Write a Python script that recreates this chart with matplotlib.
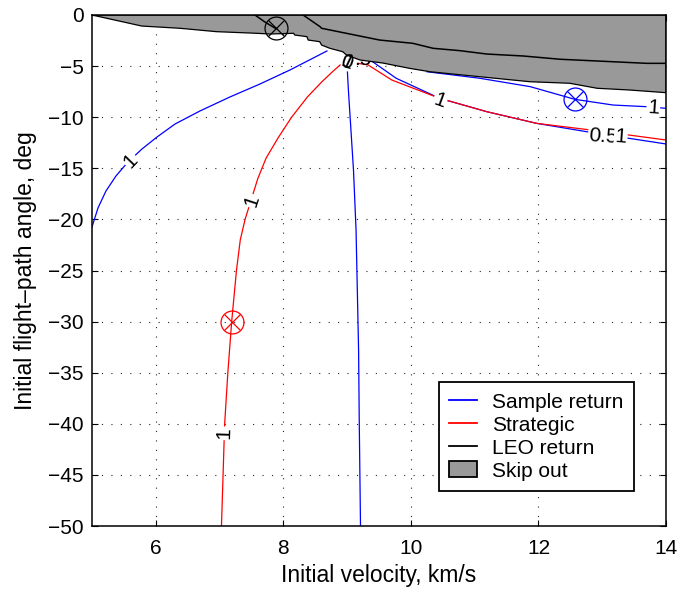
import numpy as np
import matplotlib
matplotlib.use("Agg")
import matplotlib.pyplot as plt
from matplotlib.lines import Line2D
from matplotlib.patches import Patch, Polygon

plt.rcParams['font.family'] = ['Liberation Sans', 'DejaVu Sans']
plt.rcParams['font.size'] = 15

# Skip-out region: lower boundary of the shaded zone (velocity km/s, angle deg)
skip_v = [5.00, 5.78, 6.38, 6.95, 7.58, 7.79, 8.16, 8.18, 8.37, 8.39, 8.57, 8.60,
          8.73, 8.93, 8.99, 9.20, 9.56, 9.98, 10.30, 11.08, 11.87, 12.49, 12.92,
          13.43, 14.00]
skip_g = [0.00, -1.08, -1.30, -1.63, -1.79, -1.86, -1.79, -1.96, -2.12, -2.45, -2.61,
          -2.94, -3.26, -3.59, -3.91, -4.40, -4.70, -5.22, -5.55, -6.04, -6.53, -6.68,
          -7.17, -7.34, -7.60]

# LEO return contour (two pieces)
leo1_v = [7.555, 7.71, 7.88]
leo1_g = [0.00, -0.68, -1.32]
leo2_v = [8.31, 8.575, 8.60, 9.51, 10.03, 10.35, 10.77, 11.19, 11.76, 12.34, 12.92,
          13.70, 14.00]
leo2_g = [0.00, -1.14, -1.30, -2.45, -2.77, -3.26, -3.49, -3.82, -4.01, -4.33, -4.50,
          -4.73, -4.73]

# Sample return contours
samp_left_v = [5.00, 5.094, 5.219, 5.376, 5.564, 5.784, 6.019, 6.301, 6.693, 7.163,
               7.634, 8.104, 8.684]
samp_left_g = [-20.74, -18.88, -17.22, -15.75, -14.38, -13.11, -11.94, -10.67, -9.39,
               -8.02, -6.75, -5.38, -3.52]
samp_vert_v = [9.005, 9.02, 9.06, 9.10, 9.14, 9.16, 9.18, 9.19, 9.21]
samp_vert_g = [-5.58, -7.34, -11.25, -15.17, -21.0, -26.9, -32.8, -39.6, -50.0]
samp_low_v = [9.40, 9.77, 10.45, 11.19, 11.97, 12.91, 14.00]
samp_low_g = [-4.57, -6.19, -8.15, -9.46, -10.60, -11.58, -12.62]
samp_up_v = [10.25, 11.08, 11.87, 12.57, 13.17, 13.69, 14.00]
samp_up_g = [-5.55, -6.19, -7.01, -8.25, -8.81, -8.97, -9.13]

# Strategic contours
strat_left_v = [7.03, 7.055, 7.08, 7.13, 7.19, 7.265, 7.325, 7.40, 7.50, 7.60, 7.73,
                7.92, 8.13, 8.38, 8.61, 8.78, 8.89]
strat_left_g = [-50.0, -45.0, -40.0, -35.0, -30.0, -25.0, -22.0, -20.0, -18.0, -16.0,
                -14.0, -12.0, -10.0, -8.0, -6.5, -5.5, -4.89]
strat_right_v = [9.17, 9.33, 9.70, 10.45, 11.19, 11.97, 12.91, 14.00]
strat_right_g = [-4.73, -4.89, -6.36, -8.15, -9.46, -10.60, -11.32, -12.23]

# Design points
design_v = [12.57, 7.19, 7.88]
design_g = [-8.25, -30.0, -1.32]
design_c = ['#0000ff', '#ff0000', 'black']

# Contour labels: text, velocity, angle, rotation
lab_text = ['1', '1', '1', '1', '1', '0.5', '1']
lab_v = [5.61, 7.51, 7.07, 10.455, 13.80, 13.02, 13.29]
lab_g = [-14.26, -18.2, -40.93, -8.41, -9.13, -11.94, -11.94]
lab_rot = [46, 72, 88, -20, -4, -4, -4]

BLUE = '#0000ff'
RED = '#ff0000'
GRAY = '#999999'

fig = plt.figure(figsize=(6.8, 5.93), dpi=100)
ax = fig.add_axes([92 / 680, (593 - 526) / 593, 574 / 680, 511 / 593])

# shaded skip-out region
poly_pts = list(zip(skip_v, skip_g)) + [(14.0, 0.0), (5.0, 0.0)]
ax.add_patch(Polygon(poly_pts, closed=True, facecolor=GRAY, edgecolor='black',
                     linewidth=0.9, zorder=3))

# partially hidden label at the cusp (drawn beneath the shaded region)
ax.text(9.24, -4.35, '.5', fontsize=15, ha='center', va='center', zorder=2.5)

lw = 0.9
ax.plot(samp_left_v, samp_left_g, color=BLUE, lw=lw, zorder=2)
ax.plot(samp_vert_v, samp_vert_g, color=BLUE, lw=lw, zorder=2)
ax.plot(samp_low_v, samp_low_g, color=BLUE, lw=lw, zorder=2)
ax.plot(samp_up_v, samp_up_g, color=BLUE, lw=lw, zorder=2)
ax.plot(strat_left_v, strat_left_g, color=RED, lw=lw, zorder=2.1)
ax.plot(strat_right_v, strat_right_g, color=RED, lw=lw, zorder=2.1)
ax.plot(leo1_v, leo1_g, color='black', lw=1.1, zorder=4)
ax.plot(leo2_v, leo2_g, color='black', lw=1.1, zorder=4)

for v, g, c in zip(design_v, design_g, design_c):
    ax.plot(v, g, marker='o', ms=16.5, mfc='none', mec=c, mew=0.9, zorder=5)
    ax.plot(v, g, marker='x', ms=11.8, mec=c, mew=0.9, zorder=5)

for t, v, g, r in zip(lab_text, lab_v, lab_g, lab_rot):
    ax.text(v, g, t, fontsize=15, ha='center', va='center', rotation=r,
            rotation_mode='anchor', zorder=6,
            bbox=dict(boxstyle='square,pad=0.05', fc='white', ec='none'))

# cusp labels
ax.text(8.99, -4.63, '0', fontsize=15, ha='center', va='center', rotation=-18,
        rotation_mode='anchor', zorder=6)
ax.text(8.99, -4.63, '1', fontsize=15, ha='center', va='center', rotation=-25,
        rotation_mode='anchor', zorder=6)

ax.set_xlim(5, 14)
ax.set_ylim(-50, 0)
ax.set_xticks([6, 8, 10, 12, 14])
ax.set_yticks(np.arange(-50, 1, 5))
ax.tick_params(direction='in', length=4, width=0.8, top=True, right=True,
               labelsize=15)
ax.tick_params(axis='x', pad=9)
ax.tick_params(axis='y', pad=6)
ax.grid(True, color='0.15', linestyle=(0, (1, 7.5)), linewidth=0.8)
ax.set_axisbelow(True)
for s in ax.spines.values():
    s.set_linewidth(1.1)
    s.set_zorder(7)

ax.set_xlabel('Initial velocity, km/s', fontsize=16.5, labelpad=5)
ax.set_ylabel('Initial flight\u2013path angle, deg', fontsize=16.5, labelpad=8)

handles = [Line2D([], [], color=BLUE, lw=1.3),
           Line2D([], [], color=RED, lw=1.3),
           Line2D([], [], color='black', lw=1.3),
           Patch(facecolor=GRAY, edgecolor='black', linewidth=1.3)]
labels = ['Sample return', 'Strategic', 'LEO return', 'Skip out']
leg = ax.legend(handles, labels, loc='lower right', bbox_to_anchor=(0.944, 0.0685),
                fancybox=False, framealpha=1, edgecolor='black', fontsize=15,
                handlelength=1.35, handleheight=0.8, handletextpad=0.7,
                labelspacing=0.18, borderpad=0.5, borderaxespad=0)
leg.get_frame().set_linewidth(1.3)
leg.set_zorder(8)

fig.savefig('out.png', dpi=100)
